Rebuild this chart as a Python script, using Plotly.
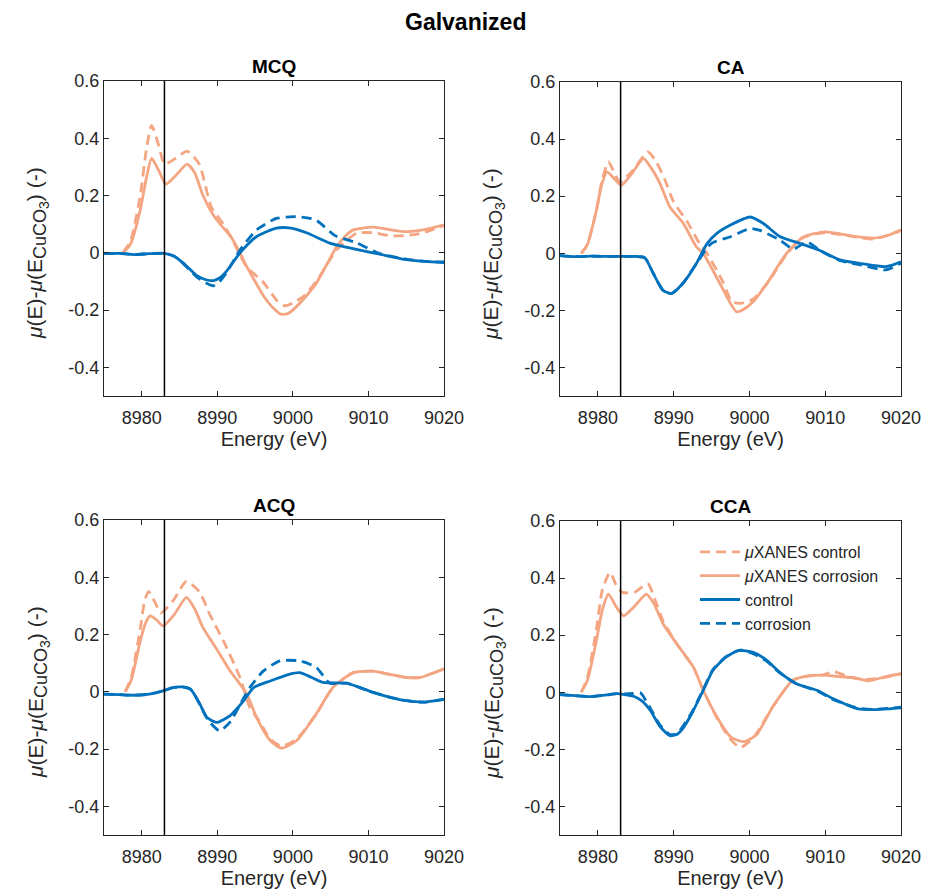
import plotly.graph_objects as go

# ---------------- DATA ----------------
panels = ["MCQ", "CA", "ACQ", "CCA"]

# MCQ
mcq_xc_x = [8977.5, 8978.5, 8979.8, 8980.6, 8981.3, 8982.2, 8983.2, 8984.5, 8986.0, 8987.0, 8988.1, 8989.5, 8990.7, 8991.7, 8992.8, 8993.9, 8995.0, 8996.1, 8997.3, 8998.5, 8999.5, 9000.5, 9001.8, 9003.1, 9004.5, 9005.8, 9007.0, 9008.0, 9010.6, 9013.0, 9015.0, 9017.2, 9020.0]
mcq_xc_y = [0.0, 0.03, 0.15, 0.26, 0.33, 0.29, 0.24, 0.27, 0.31, 0.28, 0.20, 0.13, 0.09, 0.06, 0.01, -0.048, -0.10, -0.15, -0.19, -0.215, -0.21, -0.187, -0.15, -0.106, -0.04, 0.022, 0.06, 0.08, 0.09, 0.08, 0.074, 0.08, 0.098]
mcq_xk_x = [8977.5, 8978.5, 8979.8, 8980.6, 8981.3, 8982.3, 8983.0, 8984.5, 8986.0, 8987.6, 8989.2, 8990.8, 8992.0, 8993.9, 8996.0, 8998.0, 8999.0, 9000.0, 9001.5, 9003.1, 9005.8, 9008.4, 9010.6, 9012.8, 9015.0, 9017.2, 9020.0]
mcq_xk_y = [0.0, 0.04, 0.20, 0.36, 0.445, 0.37, 0.31, 0.33, 0.355, 0.31, 0.16, 0.10, 0.045, -0.05, -0.10, -0.17, -0.185, -0.175, -0.15, -0.10, 0.01, 0.068, 0.07, 0.06, 0.06, 0.07, 0.095]
mcq_ctl_x = [8975.0, 8977.0, 8979.0, 8981.0, 8983.0, 8984.3, 8985.5, 8987.3, 8988.5, 8989.5, 8990.3, 8991.2, 8993.0, 8995.2, 8997.8, 8999.5, 9001.8, 9004.9, 9008.4, 9011.5, 9015.0, 9017.5, 9020.0]
mcq_ctl_y = [-0.003, -0.002, -0.006, -0.003, -0.002, -0.012, -0.036, -0.08, -0.094, -0.097, -0.088, -0.065, 0.0, 0.057, 0.086, 0.087, 0.07, 0.034, 0.012, -0.005, -0.024, -0.03, -0.034]
mcq_cor_x = [8975.0, 8977.0, 8979.0, 8981.0, 8983.0, 8984.3, 8985.5, 8987.3, 8988.5, 8989.5, 8990.3, 8991.2, 8993.0, 8995.2, 8997.8, 9000.4, 9003.0, 9005.6, 9008.4, 9011.5, 9015.0, 9017.5, 9020.0]
mcq_cor_y = [-0.003, -0.002, -0.006, -0.003, -0.002, -0.012, -0.038, -0.085, -0.105, -0.115, -0.10, -0.07, 0.01, 0.08, 0.12, 0.126, 0.115, 0.06, 0.035, -0.003, -0.022, -0.03, -0.032]

# CA
ca_xc_x = [8977.8, 8978.6, 8979.8, 8980.5, 8981.2, 8982.2, 8983.1, 8984.5, 8986.0, 8987.0, 8988.2, 8989.5, 8991.3, 8993.0, 8993.9, 8996.1, 8998.3, 8999.6, 9000.8, 9002.3, 9004.9, 9007.1, 9010.0, 9012.0, 9014.2, 9016.4, 9018.5, 9020.0]
ca_xc_y = [0.0, 0.03, 0.15, 0.24, 0.285, 0.26, 0.238, 0.28, 0.332, 0.30, 0.244, 0.162, 0.104, 0.022, 0.0, -0.106, -0.205, -0.19, -0.16, -0.106, 0.0, 0.057, 0.075, 0.068, 0.058, 0.053, 0.065, 0.082]
ca_xk_x = [8977.8, 8978.6, 8979.8, 8980.5, 8981.4, 8982.2, 8982.9, 8984.6, 8986.6, 8987.7, 8988.8, 8990.0, 8991.8, 8993.5, 8994.4, 8996.5, 8997.7, 8999.0, 9000.5, 9002.5, 9005.0, 9007.1, 9010.0, 9012.0, 9014.2, 9016.4, 9018.5, 9020.0]
ca_xk_y = [0.0, 0.03, 0.15, 0.25, 0.32, 0.28, 0.25, 0.29, 0.355, 0.32, 0.26, 0.18, 0.11, 0.03, 0.0, -0.10, -0.17, -0.175, -0.16, -0.10, 0.0, 0.055, 0.072, 0.065, 0.056, 0.05, 0.065, 0.08]
ca_ctl_x = [8975.0, 8977.0, 8979.0, 8981.0, 8983.0, 8985.0, 8986.2, 8987.3, 8988.6, 8989.7, 8991.2, 8993.0, 8994.4, 8995.7, 8997.5, 9000.1, 9001.8, 9004.0, 9006.6, 9009.3, 9011.9, 9014.5, 9018.0, 9020.0]
ca_ctl_y = [-0.008, -0.012, -0.01, -0.011, -0.011, -0.011, -0.016, -0.07, -0.13, -0.141, -0.106, -0.036, 0.034, 0.07, 0.099, 0.127, 0.105, 0.059, 0.035, 0.01, -0.023, -0.035, -0.047, -0.03]
ca_cor_x = [8975.0, 8977.0, 8979.0, 8981.0, 8983.0, 8985.0, 8986.2, 8987.3, 8988.6, 8989.7, 8991.2, 8993.0, 8995.0, 8997.5, 9000.1, 9001.4, 9004.0, 9005.8, 9007.6, 9009.3, 9011.9, 9014.5, 9018.0, 9020.0]
ca_cor_y = [-0.008, -0.012, -0.01, -0.011, -0.011, -0.011, -0.016, -0.07, -0.13, -0.141, -0.106, -0.036, 0.035, 0.058, 0.087, 0.08, 0.047, 0.015, 0.04, 0.01, -0.025, -0.04, -0.058, -0.035]

# ACQ
acq_xc_x = [8977.8, 8978.6, 8979.8, 8980.5, 8981.1, 8982.0, 8982.8, 8984.3, 8985.9, 8987.0, 8988.1, 8989.8, 8991.7, 8993.9, 8995.2, 8997.0, 8998.5, 9000.5, 9003.1, 9005.3, 9008.0, 9010.6, 9013.0, 9015.0, 9016.8, 9018.5, 9020.0]
acq_xc_y = [0.0, 0.04, 0.178, 0.24, 0.265, 0.25, 0.23, 0.27, 0.33, 0.29, 0.224, 0.154, 0.073, -0.007, -0.09, -0.17, -0.197, -0.17, -0.077, 0.015, 0.067, 0.072, 0.06, 0.05, 0.05, 0.065, 0.08]
acq_xk_x = [8977.8, 8978.6, 8979.8, 8980.4, 8980.9, 8981.8, 8982.5, 8984.2, 8985.9, 8987.6, 8989.0, 8990.8, 8993.0, 8994.3, 8995.5, 8997.0, 8998.5, 9000.5, 9003.1, 9005.3, 9008.0, 9010.6, 9013.0, 9015.0, 9016.8, 9018.5, 9020.0]
acq_xk_y = [0.0, 0.05, 0.22, 0.32, 0.35, 0.31, 0.275, 0.32, 0.386, 0.35, 0.27, 0.178, 0.05, -0.055, -0.10, -0.165, -0.19, -0.165, -0.077, 0.015, 0.067, 0.072, 0.06, 0.05, 0.05, 0.065, 0.08]
acq_ctl_x = [8975.0, 8977.0, 8979.0, 8981.0, 8982.8, 8984.0, 8985.4, 8986.5, 8987.7, 8988.6, 8989.9, 8991.7, 8993.5, 8994.8, 8997.0, 8999.6, 9000.9, 9002.5, 9004.0, 9007.1, 9010.6, 9013.0, 9015.0, 9017.2, 9020.0]
acq_ctl_y = [-0.008, -0.01, -0.012, -0.008, 0.003, 0.014, 0.017, 0.008, -0.043, -0.089, -0.107, -0.083, -0.031, 0.015, 0.038, 0.062, 0.067, 0.05, 0.033, 0.03, -0.002, -0.02, -0.031, -0.036, -0.026]
acq_cor_x = [8975.0, 8977.0, 8979.0, 8981.0, 8982.8, 8984.0, 8985.4, 8986.5, 8987.7, 8988.8, 8990.3, 8991.7, 8993.3, 8994.3, 8996.1, 8998.3, 9000.9, 9003.1, 9004.9, 9007.1, 9010.6, 9013.0, 9015.0, 9017.2, 9020.0]
acq_cor_y = [-0.008, -0.01, -0.012, -0.008, 0.003, 0.014, 0.017, 0.008, -0.045, -0.10, -0.136, -0.105, -0.03, 0.015, 0.073, 0.108, 0.108, 0.085, 0.03, 0.03, -0.002, -0.02, -0.031, -0.036, -0.026]

# CCA
cca_xc_x = [8977.8, 8978.6, 8979.8, 8980.6, 8981.4, 8982.4, 8983.4, 8984.8, 8986.4, 8987.4, 8988.6, 8990.4, 8992.6, 8993.9, 8995.7, 8997.5, 8999.2, 9000.9, 9003.1, 9005.7, 9007.4, 9009.6, 9012.0, 9014.0, 9015.7, 9018.0, 9020.0]
cca_xc_y = [0.0, 0.04, 0.18, 0.29, 0.344, 0.30, 0.268, 0.30, 0.344, 0.31, 0.24, 0.17, 0.088, 0.007, -0.086, -0.156, -0.173, -0.15, -0.05, 0.042, 0.056, 0.06, 0.055, 0.05, 0.04, 0.055, 0.065]
cca_xk_x = [8977.8, 8978.6, 8979.8, 8980.6, 8981.6, 8982.5, 8983.2, 8984.8, 8986.6, 8987.6, 8988.6, 8990.4, 8992.6, 8993.9, 8995.7, 8997.5, 8998.8, 9000.5, 9003.1, 9005.7, 9007.4, 9009.6, 9011.2, 9013.0, 9015.0, 9017.5, 9020.0]
cca_xk_y = [0.0, 0.05, 0.22, 0.36, 0.42, 0.37, 0.35, 0.35, 0.38, 0.32, 0.25, 0.17, 0.088, 0.007, -0.09, -0.165, -0.193, -0.16, -0.05, 0.042, 0.056, 0.06, 0.072, 0.055, 0.045, 0.05, 0.065]
cca_ctl_x = [8975.0, 8977.0, 8979.0, 8981.0, 8982.5, 8983.5, 8984.7, 8985.8, 8986.9, 8988.2, 8989.5, 8990.4, 8991.2, 8992.5, 8993.9, 8995.2, 8996.9, 8998.5, 9000.5, 9002.3, 9004.0, 9006.2, 9008.9, 9011.0, 9014.2, 9016.4, 9018.5, 9020.0]
cca_ctl_y = [-0.008, -0.012, -0.015, -0.01, -0.005, -0.008, -0.014, -0.03, -0.063, -0.12, -0.152, -0.148, -0.127, -0.069, 0.007, 0.077, 0.123, 0.146, 0.14, 0.112, 0.07, 0.03, 0.007, -0.022, -0.057, -0.061, -0.058, -0.055]
cca_cor_x = [8975.0, 8977.0, 8979.0, 8981.0, 8982.5, 8983.5, 8984.7, 8985.6, 8986.9, 8988.2, 8989.5, 8990.4, 8991.2, 8992.5, 8993.9, 8995.2, 8996.9, 8998.8, 9000.5, 9002.3, 9004.0, 9006.2, 9008.9, 9011.0, 9014.2, 9016.4, 9018.5, 9020.0]
cca_cor_y = [-0.008, -0.012, -0.015, -0.01, -0.005, -0.006, -0.004, -0.002, -0.055, -0.115, -0.148, -0.145, -0.12, -0.065, 0.01, 0.08, 0.125, 0.148, 0.135, 0.108, 0.068, 0.03, 0.005, -0.025, -0.055, -0.06, -0.056, -0.052]

edge_energy = 8983
x_ticks = [8980, 8990, 9000, 9010, 9020]
y_ticks = [-0.4, -0.2, 0, 0.2, 0.4, 0.6]
y_ticklabels = ["-0.4", "-0.2", "0", "0.2", "0.4", "0.6"]

series_names = ["<i>μ</i>XANES control", "<i>μ</i>XANES corrosion", "control", "corrosion"]
y_label = ("<i>μ</i>(E)-<i>μ</i>(E<sub><span style='font-size:18px'>CuCO</span>"
           "<sub><span style='font-size:14px'>3</span></sub></sub>) (-)")
x_label = "Energy (eV)"

panel_data = {
    "MCQ": [(mcq_xk_x, mcq_xk_y), (mcq_xc_x, mcq_xc_y), (mcq_ctl_x, mcq_ctl_y), (mcq_cor_x, mcq_cor_y)],
    "CA": [(ca_xk_x, ca_xk_y), (ca_xc_x, ca_xc_y), (ca_ctl_x, ca_ctl_y), (ca_cor_x, ca_cor_y)],
    "ACQ": [(acq_xk_x, acq_xk_y), (acq_xc_x, acq_xc_y), (acq_ctl_x, acq_ctl_y), (acq_cor_x, acq_cor_y)],
    "CCA": [(cca_xk_x, cca_xk_y), (cca_xc_x, cca_xc_y), (cca_ctl_x, cca_ctl_y), (cca_cor_x, cca_cor_y)],
}

# ---------------- STYLE ----------------
W, H = 930, 896
SALMON = "#F4A582"
BLUE = "#0072BD"
AXC = "#262626"
FONT = "Liberation Sans, Arial, sans-serif"
styles = [
    dict(color=SALMON, dash="10px,6px"),
    dict(color=SALMON, dash="solid"),
    dict(color=BLUE, dash="solid"),
    dict(color=BLUE, dash="10px,6px"),
]
# pixel boxes (left, right, top, bottom)
boxes = {
    "MCQ": (104, 444, 81, 396),
    "CA": (560, 901, 82, 396),
    "ACQ": (104, 444, 520, 835),
    "CCA": (560, 901, 521, 835),
}

fig = go.Figure()
layout = dict(
    width=W, height=H,
    margin=dict(l=0, r=0, t=0, b=0),
    paper_bgcolor="white", plot_bgcolor="white",
    font=dict(family=FONT, size=18, color=AXC),
    showlegend=True,
    legend=dict(x=695 / W, y=1 - 535 / H, xanchor="left", yanchor="top",
                bgcolor="rgba(255,255,255,0)", font=dict(size=16, color=AXC, family=FONT),
                tracegroupgap=0, itemwidth=40),
    shapes=[], annotations=[],
)

draw_order = [1, 0, 2, 3]
for i, name in enumerate(panels):
    k = "" if i == 0 else str(i + 1)
    L, R, T, B = boxes[name]
    layout["xaxis" + k] = dict(
        domain=[L / W, R / W], range=[8975, 9020], anchor="y" + k,
        tickvals=x_ticks, ticks="inside", ticklen=5, tickcolor=AXC,
        showline=True, linecolor=AXC, linewidth=1, mirror="ticks",
        showgrid=False, zeroline=False, automargin=False, ticklabelstandoff=5,
        tickfont=dict(size=18, color=AXC, family=FONT),
        title=dict(text=x_label, font=dict(size=20, color=AXC, family=FONT), standoff=2),
    )
    layout["yaxis" + k] = dict(
        domain=[1 - B / H, 1 - T / H], range=[-0.5, 0.6], anchor="x" + k,
        tickvals=y_ticks, ticktext=y_ticklabels, ticks="inside", ticklen=5, tickcolor=AXC,
        showline=True, linecolor=AXC, linewidth=1, mirror="ticks",
        showgrid=False, zeroline=False, automargin=False,
        tickfont=dict(size=18, color=AXC, family=FONT),
    )
    for j in draw_order:
        xs, ys = panel_data[name][j]
        fig.add_trace(go.Scatter(
            x=xs, y=ys, mode="lines", name=series_names[j],
            line=dict(color=styles[j]["color"], dash=styles[j]["dash"], width=2.8, shape="spline", smoothing=0.6),
            xaxis="x" + k, yaxis="y" + k,
            showlegend=(name == "CCA"), legendrank=j + 1,
        ))
    layout["shapes"].append(dict(
        type="line", xref="x" + k, yref="y" + k + " domain",
        x0=edge_energy, x1=edge_energy, y0=0, y1=1,
        line=dict(color="black", width=1.5), layer="above",
    ))
    layout["annotations"].append(dict(
        text="<b>" + name + "</b>", xref="x" + k + " domain", yref="paper",
        x=0.5, y=1 - (T - 2) / H, xanchor="center", yanchor="bottom",
        showarrow=False, font=dict(size=19, color="black", family=FONT),
    ))
    # y-axis title placed beside the panel
    layout["annotations"].append(dict(
        text=y_label, xref="paper", yref="paper",
        x=(L - 66) / W, y=1 - (T + 172) / H, xanchor="center", yanchor="middle",
        textangle=-90, showarrow=False, font=dict(size=21, color=AXC, family=FONT),
    ))

layout["annotations"].append(dict(
    text="<b>Galvanized</b>", xref="paper", yref="paper",
    x=465 / W, y=1 - 22 / H, xanchor="center", yanchor="middle",
    showarrow=False, font=dict(size=23, color="black", family=FONT),
))

fig.update_layout(**layout)
fig.write_html("out.html", config={"displayModeBar": False},
               post_script="document.body.style.margin='0px';document.body.style.overflow='hidden';")
